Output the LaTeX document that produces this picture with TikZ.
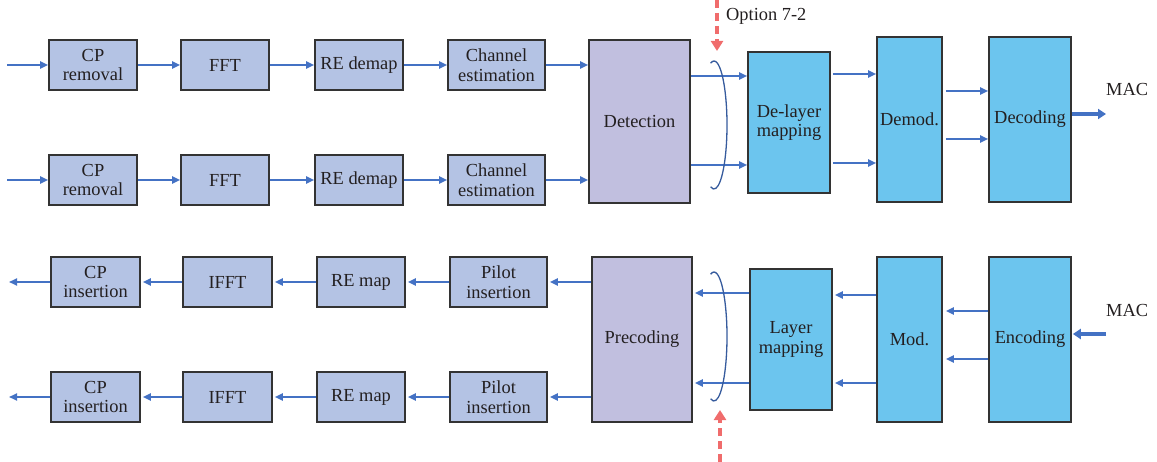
\documentclass[tikz,border=0pt]{standalone}
\usepackage{fontspec}
\setmainfont{Liberation Serif}
\usetikzlibrary{arrows.meta}
\definecolor{boxfill}{RGB}{180,195,228}
\definecolor{procfill}{RGB}{193,191,223}
\definecolor{layfill}{RGB}{108,197,238}
\definecolor{edge}{RGB}{51,51,51}
\definecolor{flow}{RGB}{68,114,196}
\definecolor{split}{RGB}{240,108,108}
\definecolor{ink}{RGB}{35,31,32}
\tikzset{
  blk/.style={draw=edge, line width=1.6pt, inner sep=0pt, align=center,
    text=ink, font=\fontsize{18.4}{19.5}\selectfont},
  sbox/.style={blk, fill=boxfill, minimum height=50pt},
  pbox/.style={blk, fill=procfill},
  lbox/.style={blk, fill=layfill},
  arr/.style={draw=flow, line width=1.8pt, -{Triangle[length=8pt,width=7pt]}},
  fatarr/.style={draw=flow, line width=4.5pt, -{Triangle[length=8pt,width=10pt]}},
  optarr/.style={draw=split, line width=4pt, dash pattern=on 8pt off 5pt,
    -{Triangle[length=10pt,width=12pt]}},
  ring/.style={draw=flow!80!black, line width=1.3pt},
  lbl/.style={text=ink, font=\fontsize{18.4}{19.5}\selectfont, inner sep=0pt}
}
\begin{document}
\begin{tikzpicture}[x=1pt,y=-1pt]
\useasboundingbox (0,0) rectangle (1157,462);

% ---------- receive chain ----------
\foreach \r/\y in {1/65,2/180}{
  \node[sbox, minimum width=88pt] (cpr\r) at (93,\y) {CP\\removal};
  \node[sbox, minimum width=88pt] (fft\r) at (225,\y) {FFT};
  \node[sbox, minimum width=88pt] (red\r) at (359,\y) {RE demap};
  \node[sbox, minimum width=97pt] (che\r) at (496.5,\y) {Channel\\estimation};
  \coordinate (rin\r) at (7,\y);
}
\node[pbox, minimum width=101pt, minimum height=163pt] (det) at (639.5,121.5) {Detection};
\node[lbox, minimum width=82pt, minimum height=141pt] (dlm) at (789,122.5) {De-layer\\mapping};
\node[lbox, minimum width=65pt, minimum height=165pt] (dmd) at (909.5,119.5) {Demod.};
\node[lbox, minimum width=82pt, minimum height=165pt] (dec) at (1030,119.5) {Decoding};

\foreach \r in {1,2}{
  \draw[arr] (rin\r) -- (cpr\r);
  \draw[arr] (cpr\r) -- (fft\r);
  \draw[arr] (fft\r) -- (red\r);
  \draw[arr] (red\r) -- (che\r);
}
\draw[arr] (che1.east) -- (det.west |- che1.east);
\draw[arr] (che2.east) -- (det.west |- che2.east);
\draw[arr] (det.east |- 0,76) -- (dlm.west |- 0,76);
\draw[arr] (det.east |- 0,165) -- (dlm.west |- 0,165);
\draw[arr] ([xshift=2pt]dlm.east |- 0,74) -- (dmd.west |- 0,74);
\draw[arr] ([xshift=2pt]dlm.east |- 0,163) -- (dmd.west |- 0,163);
\draw[arr] ([xshift=3pt]dmd.east |- 0,91) -- (dec.west |- 0,91);
\draw[arr] ([xshift=3pt]dmd.east |- 0,139) -- (dec.west |- 0,139);
\coordinate (macout) at (1106,114);
\draw[fatarr] (dec.east |- macout) -- (macout);
\node[lbl, anchor=west] (macr) at (1106,90) {MAC};

% layer bundle and split point (receive side)
\draw[ring] (714,125) ++(105:13 and 64) arc[start angle=105, end angle=-105, x radius=13, y radius=64];
\coordinate (opt1s) at (717,0);
\coordinate (opt1e) at (717,51);
\draw[optarr] (opt1s) -- (opt1e);
\node[lbl, anchor=west] (optlbl) at (726,16) {Option 7-2};

% ---------- transmit chain ----------
\foreach \r/\y in {1/282,2/397}{
  \node[sbox, minimum width=89pt] (cpi\r) at (95.5,\y) {CP\\insertion};
  \node[sbox, minimum width=89pt] (ifft\r) at (227.5,\y) {IFFT};
  \node[sbox, minimum width=88pt] (rem\r) at (361,\y) {RE map};
  \node[sbox, minimum width=97pt] (pil\r) at (498.5,\y) {Pilot\\insertion};
  \coordinate (tout\r) at (9,\y);
}
\node[pbox, minimum width=100pt, minimum height=165pt] (pre) at (642,339.5) {Precoding};
\node[lbox, minimum width=82pt, minimum height=141pt] (lay) at (791,339.5) {Layer\\mapping};
\node[lbox, minimum width=65pt, minimum height=165pt] (mod) at (909.5,339.5) {Mod.};
\node[lbox, minimum width=82pt, minimum height=165pt] (enc) at (1030,339.5) {Encoding};

\foreach \r in {1,2}{
  \draw[arr] (cpi\r) -- (tout\r);
  \draw[arr] (ifft\r) -- ([xshift=2pt]cpi\r.east);
  \draw[arr] (rem\r) -- ([xshift=2pt]ifft\r.east);
  \draw[arr] (pil\r) -- ([xshift=2pt]rem\r.east);
  \draw[arr] (pre.west |- pil\r.east) -- ([xshift=2pt]pil\r.east);
}
\draw[arr] (lay.west |- 0,293) -- ([xshift=2pt]pre.east |- 0,293);
\draw[arr] (lay.west |- 0,383) -- ([xshift=2pt]pre.east |- 0,383);
\draw[arr] (mod.west |- 0,295) -- ([xshift=2pt]lay.east |- 0,295);
\draw[arr] (mod.west |- 0,383) -- ([xshift=2pt]lay.east |- 0,383);
\draw[arr] (enc.west |- 0,311) -- ([xshift=3pt]mod.east |- 0,311);
\draw[arr] (enc.west |- 0,359) -- ([xshift=3pt]mod.east |- 0,359);
\coordinate (macin) at (1106,334);
\draw[fatarr] (macin) -- ([xshift=1pt]enc.east |- macin);
\node[lbl, anchor=west] (mact) at (1106,310) {MAC};

% layer bundle and split point (transmit side)
\draw[ring] (714,336.5) ++(105:13 and 64.5) arc[start angle=105, end angle=-105, x radius=13, y radius=64.5];
\coordinate (opt2s) at (720,462);
\coordinate (opt2e) at (720,410);
\draw[optarr] (opt2s) -- (opt2e);
\end{tikzpicture}
\end{document}
